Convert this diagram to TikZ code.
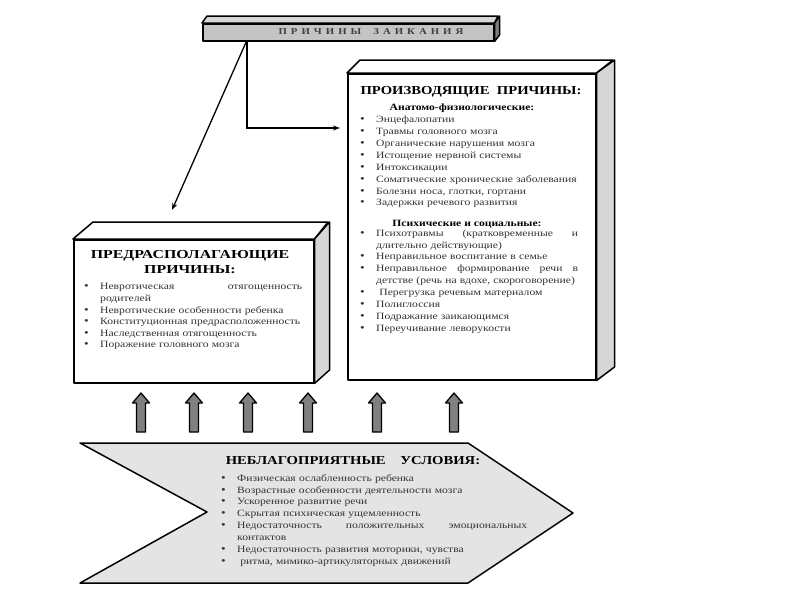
\documentclass[tikz,border=0pt]{standalone}
\usepackage{fontspec}
\setmainfont{Liberation Serif}
\newfontfamily\itemf[FakeStretch=1.21]{Liberation Serif}
\newfontfamily\headf[FakeStretch=1.2]{Liberation Serif}
\newfontfamily\headwf[FakeStretch=1.3]{Liberation Serif}
\usetikzlibrary{arrows.meta}
\definecolor{txtgray}{HTML}{333333}
\definecolor{bargray}{HTML}{C4C4C4}
\definecolor{sidegray}{HTML}{D6D6D6}
\definecolor{chevgray}{HTML}{E4E4E4}
\definecolor{arrgray}{HTML}{808080}
\newcommand\li[1]{\par\noindent\llap{{\fontsize{11}{11}\selectfont\textbullet}\hspace{11.5pt}}#1}
\newcommand\jl[2]{\makebox[#1][l]{#2}}
\newcommand\lsp{\hspace{4pt}}
\tikzset{
  face/.style={draw=black, line width=1.5pt, line join=round},
  frontface/.style={face, fill=white, inner sep=0pt, anchor=north west},
  listnode/.style={anchor=north west, inner sep=0pt, align=left, text width=300pt,
     font=\itemf\fontsize{9.6}{11.9}\selectfont, text=txtgray},
  headnode/.style={inner sep=0pt, align=center, font=\headf\bfseries\fontsize{12.2}{15}\selectfont},
  subhead/.style={inner sep=0pt, font=\itemf\bfseries\fontsize{9.6}{11}\selectfont},
  conn/.style={line width=1.3pt, -{Stealth[length=7pt,width=5pt]}},
  blockarrow/.style={draw=black, line width=1.3pt, fill=arrgray, line join=round},
}
\newcommand\uparr[2]{\draw[blockarrow] ({#1-4.5},432) -- ({#1-4.5},403) -- ({#1-8.5},403) -- (#1,393) -- ({#1+8.5},403) -- ({#1+4.5},403) -- ({#1+4.5},432) -- cycle;}
\begin{document}
\begin{tikzpicture}[x=1pt,y=-1pt]
\useasboundingbox (0,0) rectangle (800,600);
% ---- title bar
\node[frontface, fill=bargray, minimum width=291pt, minimum height=17pt] (title) at (202,23) {};
\draw[face, fill=sidegray] (title.north west) -- ++(5,-7) -- ++(291,0) -- (title.north east) -- cycle;
\draw[face, fill=arrgray] (title.north east) -- ++(5,-7) -- ++(0,19) -- (title.south east) -- cycle;
\node[inner sep=0pt, text=black!75, font=\headf\bfseries\fontsize{9}{10}\selectfont] (titletext) at (371,31.5)
  {П\lsp Р\lsp И\lsp Ч\lsp И\lsp Н\lsp Ы\lsp\lsp\lsp З\lsp А\lsp И\lsp К\lsp А\lsp Н\lsp И\lsp Я};
% ---- producing causes box
\node[frontface, minimum width=248pt, minimum height=306pt] (prod) at (347,73) {};
\draw[face] (prod.north west) -- ++(13,-13) -- ++(253,0) -- (prod.north east) -- cycle;
\draw[face, fill=sidegray] (prod.north east) -- ++(18,-13) -- ++(0,307) -- (prod.south east) -- cycle;
% ---- predisposing causes box
\node[frontface, minimum width=240pt, minimum height=143pt] (pred) at (73,239) {};
\draw[face] (pred.north west) -- ++(20,-17) -- ++(235,0) -- (pred.north east) -- cycle;
\draw[face, fill=sidegray] (pred.north east) -- ++(15,-17) -- ++(0,148) -- (pred.south east) -- cycle;
% ---- connectors from title
\coordinate (tstart) at (247,40);
\coordinate (predtip) at (172,210);
\draw[conn] (tstart) -- (247,128) -- ([xshift=-7pt]prod.west |- 0,128);
\draw[conn] (tstart) -- (predtip);
% ---- texts in producing box
\node[headnode] (prodhead) at (471,92) {ПРОИЗВОДЯЩИЕ\ \ ПРИЧИНЫ:};
\node[subhead] (anat) at (462,108) {Анатомо-физиологические:};
\node[listnode] (anatlist) at (376,110.5) {%
\li{Энцефалопатии}
\li{Травмы головного мозга}
\li{Органические нарушения мозга}
\li{Истощение нервной системы}
\li{Интоксикации}
\li{Соматические хронические заболевания}
\li{Болезни носа, глотки, гортани}
\li{Задержки речевого развития}};
\node[subhead] (psych) at (467,224) {Психические и социальные:};
\node[listnode] (psychlist) at (376,224) {%
\li{\jl{202pt}{Психотравмы\hfill(кратковременные\hfill и}}\\
длительно действующие)
\li{Неправильное воспитание в семье}
\li{\jl{202pt}{Неправильное\hfill формирование\hfill речи\hfill в}}\\
детстве (речь на вдохе, скороговорение)
\li{\ Перегрузка речевым материалом}
\li{Полиглоссия}
\li{Подражание заикающимся}
\li{Переучивание леворукости}};
% ---- texts in predisposing box
\node[headnode, font=\headwf\bfseries\fontsize{12.2}{15}\selectfont] (predhead) at (190,262.5) {ПРЕДРАСПОЛАГАЮЩИЕ\\ПРИЧИНЫ:};
\node[listnode, font=\itemf\fontsize{9.6}{11.6}\selectfont] (predlist) at (100,278) {%
\li{\jl{202pt}{Невротическая\hfill отягощенность}}\\
родителей
\li{Невротические особенности ребенка}
\li{Конституционная предрасположенность}
\li{Наследственная отягощенность}
\li{Поражение головного мозга}};
% ---- block arrows
\uparr{141}{a1}
\uparr{194}{a2}
\uparr{248}{a3}
\uparr{308}{a4}
\uparr{377}{a5}
\uparr{454}{a6}
% ---- chevron
\draw[face, fill=chevgray] (80,443) -- (468,443) -- (573,513) -- (468,583) -- (80,583) -- (207,512) -- cycle;
\node[headnode] (condhead) at (353,461) {НЕБЛАГОПРИЯТНЫЕ\ \ \ \ УСЛОВИЯ:};
\node[listnode] (condlist) at (237,469) {%
\li{Физическая ослабленность ребенка}
\li{Возрастные особенности деятельности мозга}
\li{Ускоренное развитие речи}
\li{Скрытая психическая ущемленность}
\li{\jl{290pt}{Недостаточность\hfill положительных\hfill эмоциональных}}\\
контактов
\li{Недостаточность развития моторики, чувства}
\li{\ ритма, мимико-артикуляторных движений}};
\end{tikzpicture}
\end{document}
